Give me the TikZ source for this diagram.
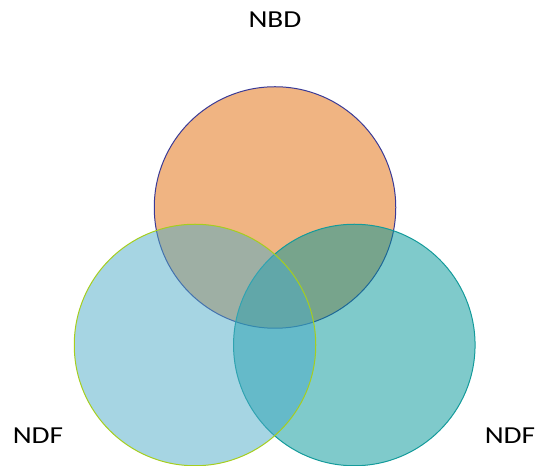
\documentclass[tikz,border=0pt]{standalone}
\usepackage{fontspec}
\newfontfamily\lblfont[FakeStretch=1.2]{Carlito}
\definecolor{nbdfill}{RGB}{240,180,130}
\definecolor{nbdline}{RGB}{58,58,150}
\definecolor{leftfill}{RGB}{77,171,199}
\definecolor{leftline}{RGB}{166,206,30}
\definecolor{rightfill}{RGB}{0,149,151}
\definecolor{rightline}{RGB}{20,155,155}
\tikzset{
  setcircle/.style={circle, inner sep=0pt, minimum size=241.5pt, line width=1pt},
  setlabel/.style={anchor=base, inner sep=0pt, font=\lblfont\fontsize{24.4pt}{28pt}\selectfont, text=black}
}
\begin{document}
\begin{tikzpicture}[x=1pt,y=1pt]
  \useasboundingbox (0,0) rectangle (537,465);
  % three overlapping sets
  \node[setcircle, draw=nbdline, fill=nbdfill] (nbd) at (275,257.5) {};
  \node[setcircle, draw=rightline, fill=rightfill, fill opacity=0.5] (ndfr) at (354.3,120) {};
  \node[setcircle, draw=leftline, fill=leftfill, fill opacity=0.5] (ndfl) at (195,120) {};
  % set labels
  \node[setlabel] (lbltop) at (275,437) {NBD};
  \node[setlabel] (lblleft) at (38,22) {NDF};
  \node[setlabel] (lblright) at (510,22) {NDF};
\end{tikzpicture}
\end{document}
